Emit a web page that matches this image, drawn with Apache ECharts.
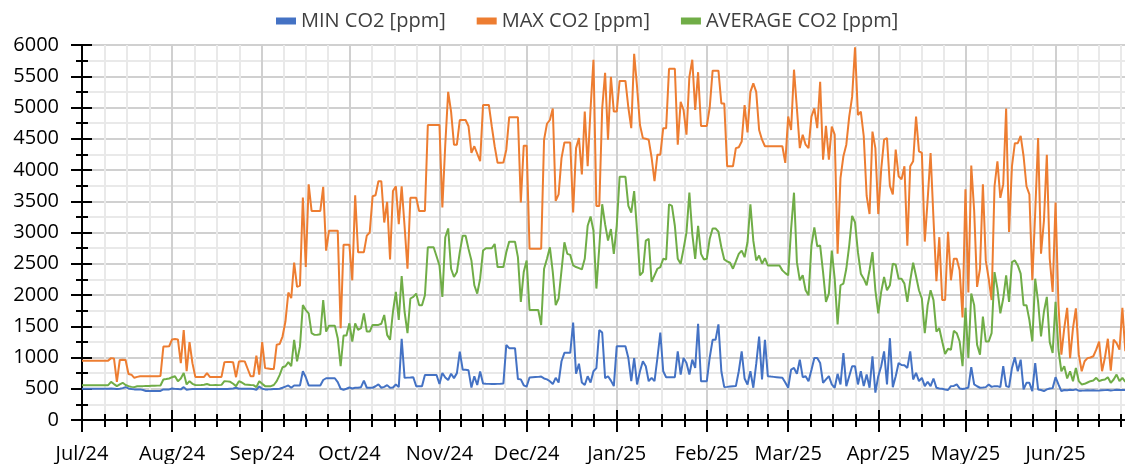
<!DOCTYPE html>
<html><head><meta charset="utf-8">
<script src="https://cdn.jsdelivr.net/npm/echarts@6/dist/echarts.min.js"></script>
<style>html,body{margin:0;padding:0;background:#fff}#c{width:1125px;height:464px}</style>
</head><body><div id="c"></div>
<script>
const seriesNames = ['MIN CO2 [ppm]', 'MAX CO2 [ppm]', 'AVERAGE CO2 [ppm]'];
const monthLabels = ['Jul/24','Aug/24','Sep/24','Oct/24','Nov/24','Dec/24','Jan/25','Feb/25','Mar/25','Apr/25','May/25','Jun/25'];
const yMin = 0, yMax = 6000, yInterval = 500;

// daily values from 1 Jul 2024
const minCO2 = [
  500,500,500,500,500,500,500,500,500,500, 505,500,495,500,510,526,505,495,490,490, 490,480,463,463,463,463,463,465,490,490, 490,
  505,498,495,490,526,484,490,495,495,495, 495,495,500,495,495,495,495,495,495,495, 500,505,516,500,500,500,500,500,495,484, 537,
  500,490,490,492,495,495,500,516,535,553, 516,553,553,553,779,684,553,553,553,553, 553,640,668,668,668,668,605,500,484,500,
  520,505,515,516,525,630,516,516,516,540, 569,516,530,558,516,520,569,526,1300,674, 678,680,685,542,542,542,720,720,720,720, 720,
  575,752,680,640,740,670,750,1095,805,805, 795,520,700,560,775,585,580,578,575,575, 578,580,585,1200,1150,1150,1150,655,650,555,
  535,680,685,688,690,695,665,650,620,575, 675,600,940,1075,1075,1075,1560,740,900,600, 560,700,600,780,830,1440,1400,670,700,630, 543,
  1180,1180,1180,1180,992,621,992,569,780,939, 860,621,675,621,992,1400,780,685,685,685, 685,1100,727,992,912,727,965,833,1540,621, 621,
  621,1000,1283,1283,1531,780,526,530,535,540, 542,780,1098,664,569,780,516,897,1336,648, 1283,701,695,690,685,680,675,600,
  516,807,833,738,965,685,701,621,800,992, 992,912,595,650,701,569,516,738,569,1071, 542,700,860,860,569,780,542,727,516,1018, 437,
  701,860,1098,569,1309,526,700,912,880,875, 833,1098,648,754,621,675,542,611,542,664, 516,505,500,489,480,542,545,569,505,495,
  505,520,844,569,540,516,520,526,569,530, 542,542,526,860,542,526,833,1002,780,965, 489,595,595,463,912,489,480,463,490,505, 510,
  685,569,463,480,475,485,478,490,470,470, 472,475,472,475,470,472,475,478,480,472, 478,485,480,482,480
];
const maxCO2 = [
  950,950,950,950,950,950,950,950,950,950, 990,985,610,960,965,960,735,725,675,690, 700,700,700,700,700,700,700,705,1175,1175, 1180,
  1290,1295,1290,910,1440,780,1245,910,690,690, 690,690,750,690,690,690,690,690,925,930, 928,925,685,935,940,938,820,700,700,1030, 725,
  1245,830,825,815,815,1205,1215,1335,1575,2040, 1950,2520,2130,2150,3560,2450,3770,3345,3345,3345, 3345,3730,2710,3030,3030,3030,3030,1470,2805,2805,
  2805,2235,3595,2685,2685,2685,2950,3000,3580,3595, 3820,3820,3160,3490,2570,3665,3740,3135,3740,3100, 2420,3555,3555,3555,3345,3345,3345,4720,4720,4720, 4720,
  4720,3400,4405,5250,4935,4405,4405,4800,4800,4800, 4700,4275,4380,4260,4140,5040,5040,5040,4700,4380, 4115,4115,4120,4325,4845,4845,4845,4845,3480,4390,
  4390,2740,2740,2740,2740,2740,4485,4740,4800,4985, 3505,3610,4190,4440,4440,4440,3320,4350,4510,3930, 4935,4060,4985,5765,3425,3425,4985,5555,4485,5490, 4935,
  4935,5425,5425,5425,5000,4670,5860,5330,4720,4510, 4500,4485,4200,3820,4245,4245,4670,4670,5620,5620, 5620,4405,5090,4960,4565,5490,5765,4960,5565,4705, 4705,
  4705,5000,5590,5590,5590,5065,5065,4060,4060,4060, 4350,4365,4455,5040,4600,5250,5385,5250,4640,4485, 4380,4380,4380,4380,4380,4380,4380,4115,
  4855,4640,5605,4985,4350,4565,4405,4350,4855,4985, 4670,5410,4165,4705,4165,4695,4565,2660,3875,4220, 4405,4855,5170,5965,4880,4935,4540,3585,3295,4615, 4350,
  3295,4005,4485,4510,3745,3610,4325,3900,3850,4060, 2790,4060,4140,4855,4300,4275,2855,3530,4270,3215, 2220,2925,1920,1920,3010,2235,2580,2580,2395,1640,
  3690,2040,4070,3345,2130,2420,3770,2550,2260,1920, 3740,4140,3555,3770,4985,3010,4060,4430,4430,4545, 4220,3740,3610,2235,3320,4510,2660,3185,4245,2580, 2050,
  3480,1840,1045,1470,1795,990,1470,1785,1045,780, 940,990,1000,1020,1125,1255,780,1000,1300,790, 1285,1230,1125,1795,1100
];
const avgCO2 = [
  558,558,558,558,558,558,558,558,558,558, 610,575,542,570,595,560,542,530,526,540, 542,542,545,545,548,548,550,552,648,655, 664,
  685,701,621,664,754,569,621,579,560,558, 560,565,575,560,558,560,558,562,621,618, 611,580,542,621,600,569,565,560,558,526, 621,
  580,542,542,542,560,621,717,844,860,925, 860,1283,939,1177,1838,1759,1706,1389,1362,1365, 1373,1918,1415,1510,1510,1510,1309,860,1352,1352,
  1547,1256,1547,1442,1468,1706,1415,1415,1521,1521, 1521,1540,1680,1362,1283,1732,2050,1600,2304,1732, 1389,1944,1970,2023,1838,1838,1997,2764,2764,2764, 2620,
  2473,1970,2923,3065,2420,2288,2367,2685,2949,2949, 2738,2553,2156,2023,2261,2711,2748,2748,2748,2817, 2447,2447,2447,2685,2854,2854,2854,2605,1891,2367,
  2553,1759,1759,1759,1759,1521,2420,2579,2764,2367, 1838,1944,2394,2843,2658,2642,2473,2447,2430,2410, 2579,3108,3256,3028,2103,2764,3452,3134,2870,3055, 2658,
  3108,3891,3891,3891,3425,3320,3663,3028,2315,2367, 2870,2897,2209,2315,2420,2447,2579,2568,3452,3425, 3108,2579,2500,2738,3002,3637,2976,2579,3108,2658, 2568,
  2580,2900,3065,3065,3012,2764,2568,2537,2516,2420, 2537,2658,2711,2605,2843,3452,2870,2553,2632,2500, 2589,2473,2473,2473,2473,2473,2394,2350,
  2315,3055,3637,2526,2235,2315,2076,1997,2791,3081, 2780,2791,2367,1891,2023,2711,2261,1531,2156,2182, 2420,2791,3266,3161,2685,2341,2261,2156,2400,2685, 2076,
  1706,2050,2288,2076,2156,2500,2484,2261,2261,2182, 1891,2235,2516,2300,2076,1944,1389,1838,2076,1918, 1415,1468,1256,1055,1140,1124,1426,1389,1256,860,
  1796,992,2023,1838,1204,1045,1653,1256,1256,1389, 2367,2103,1706,1944,2315,1891,2526,2553,2473,2341, 1838,1838,1600,1256,2261,1891,1336,1732,1970,1246, 1071,
  1891,1124,780,860,664,780,621,833,621,569, 579,600,621,632,675,621,640,648,685,595, 648,727,621,675,611
];

const DAY = 86400000;
const dayTime = i => new Date(2024, 6, 1 + i).getTime();
const monthStarts = monthLabels.map((_, k) => new Date(2024, 6 + k, 1).getTime());
const xMin = dayTime(0);
const xMax = dayTime(0) + 358.9 * DAY;
const minorTicks = [];
monthStarts.forEach((s, k) => {
  const e = new Date(2024, 7 + k, 1).getTime();
  for (let j = 1; j < 4; j++) { const t = s + (e - s) * j / 4; if (t < xMax) minorTicks.push(t); }
});
const toPairs = arr => arr.map((v, i) => [dayTime(i), v]);

const FONT = 'Open Sans';
const AX = '#000';
const MAJOR = '#d0d0d0', MINOR = '#e9e9e9';

const baseX = { type: 'value', min: xMin, max: xMax, position: 'bottom', scale: true,
  axisLine: { show: false, onZero: false }, axisLabel: { show: false }, splitLine: { show: false } };
const baseY = { type: 'value', min: yMin, max: yMax, position: 'left',
  axisLine: { show: false, onZero: false }, axisLabel: { show: false }, splitLine: { show: false } };

const option = {
  animation: false,
  backgroundColor: '#fff',
  textStyle: { fontFamily: FONT },
  color: ['#4472C4', '#ED7D31', '#70AD47'],
  legend: {
    top: 6, left: 271, itemWidth: 20, itemHeight: 7, itemGap: 31, icon: 'rect',
    textStyle: { fontFamily: FONT, fontSize: 20, color: '#404040' },
    data: seriesNames
  },
  grid: { left: 82, right: 0, top: 45, bottom: 42, containLabel: false },
  xAxis: [
    Object.assign({}, baseX, { axisTick: { show: true, customValues: minorTicks, length: 7, lineStyle: { color: AX, width: 2 } },
      axisLabel: { show: false, customValues: minorTicks },
      splitLine: { show: true, lineStyle: { color: MINOR, width: 2 } } }),
    Object.assign({}, baseX, { axisTick: { show: true, customValues: minorTicks, inside: true, length: 6, lineStyle: { color: AX, width: 2 } },
      axisLabel: { show: false, customValues: minorTicks } }),
    Object.assign({}, baseX, {
      axisLine: { show: true, onZero: false, lineStyle: { color: AX, width: 2 } },
      axisTick: { show: true, customValues: monthStarts, length: 12, lineStyle: { color: AX, width: 2 } },
      axisLabel: { show: true, customValues: monthStarts, margin: 24, fontSize: 20, fontFamily: FONT, color: '#000',
        formatter: v => { const i = monthStarts.indexOf(v); return i >= 0 ? monthLabels[i] : ''; } },
      splitLine: { show: true, lineStyle: { color: MAJOR, width: 2 } } }),
    Object.assign({}, baseX, { axisTick: { show: true, customValues: monthStarts, inside: true, length: 10, lineStyle: { color: AX, width: 2 } },
      axisLabel: { show: false, customValues: monthStarts } })
  ],
  yAxis: [
    Object.assign({}, baseY, { interval: yInterval / 2, axisTick: { show: true, length: 6, lineStyle: { color: AX, width: 2 } },
      splitLine: { show: true, lineStyle: { color: MINOR, width: 2 } } }),
    Object.assign({}, baseY, { interval: yInterval / 2, axisTick: { show: true, inside: true, length: 6, lineStyle: { color: AX, width: 2 } } }),
    Object.assign({}, baseY, { interval: yInterval,
      axisLine: { show: true, onZero: false, lineStyle: { color: AX, width: 2 } },
      axisTick: { show: true, length: 11, lineStyle: { color: AX, width: 2 } },
      axisLabel: { show: true, margin: 23, fontSize: 20, fontFamily: FONT, color: '#000', formatter: v => String(v) },
      splitLine: { show: true, lineStyle: { color: MAJOR, width: 2 } } }),
    Object.assign({}, baseY, { interval: yInterval, axisTick: { show: true, inside: true, length: 10, lineStyle: { color: AX, width: 2 } } })
  ],
  series: [minCO2, maxCO2, avgCO2].map((arr, k) => ({
    name: seriesNames[k], type: 'line', xAxisIndex: 2, yAxisIndex: 2,
    data: toPairs(arr), showSymbol: false, symbol: 'none', clip: true,
    lineStyle: { width: 2 }, z: 3
  }))
};
echarts.init(document.getElementById('c'), null, { renderer: 'canvas' }).setOption(option);
</script></body></html>
